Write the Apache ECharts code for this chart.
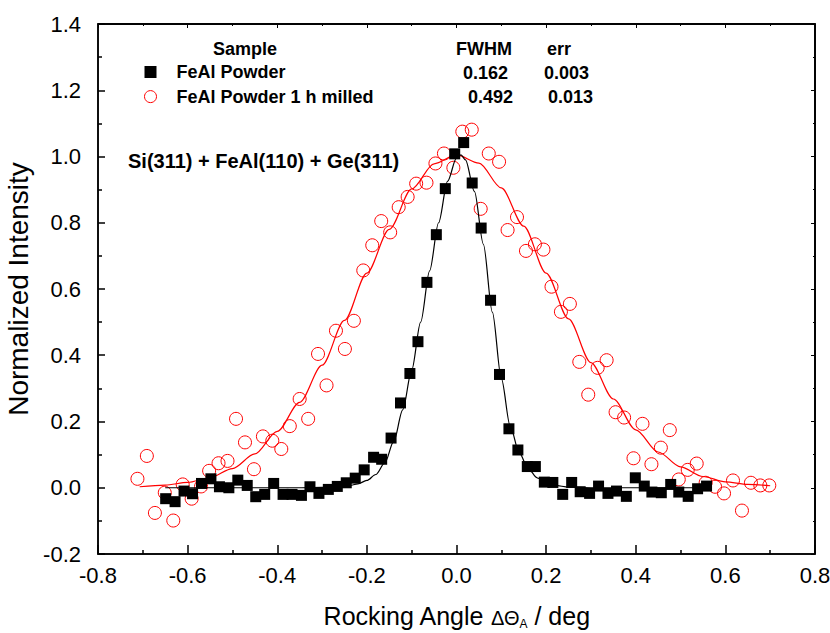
<!DOCTYPE html>
<html>
<head>
<meta charset="utf-8">
<script src="https://cdn.jsdelivr.net/npm/echarts@6/dist/echarts.min.js"></script>
<style>
  html, body { margin: 0; padding: 0; background: #fff; }
  #chart { width: 830px; height: 633px; }
</style>
</head>
<body>
<div id="chart"></div>
<script>
// FeAl Powder (black squares)
const powderX = [-0.649, -0.628, -0.608, -0.589, -0.569, -0.548, -0.529, -0.508, -0.488, -0.467,
  -0.448, -0.428, -0.408, -0.387, -0.367, -0.346, -0.327, -0.307, -0.286, -0.266,
  -0.246, -0.226, -0.206, -0.185, -0.167, -0.146, -0.125, -0.104, -0.086, -0.066,
  -0.045, -0.025, -0.004, 0.016, 0.035, 0.055, 0.076, 0.096, 0.117, 0.137,
  0.158, 0.176, 0.196, 0.215, 0.237, 0.257, 0.276, 0.297, 0.317, 0.338,
  0.357, 0.379, 0.399, 0.419, 0.436, 0.457, 0.478, 0.496, 0.517, 0.538, 0.558]
const powderY = [-0.033, -0.042, -0.010, -0.018, 0.013, 0.027, 0.003, 0.000, 0.023, 0.007,
  -0.027, -0.020, 0.013, -0.020, -0.020, -0.023, 0.003, -0.017, -0.005, 0.004,
  0.015, 0.029, 0.054, 0.092, 0.086, 0.150, 0.256, 0.345, 0.441, 0.620,
  0.764, 0.903, 1.008, 1.042, 0.920, 0.784, 0.566, 0.342, 0.178, 0.114,
  0.064, 0.064, 0.017, 0.016, -0.020, 0.016, -0.012, -0.017, 0.005, -0.017,
  -0.010, -0.026, 0.030, 0.005, -0.013, -0.015, 0.010, -0.013, -0.026, -0.003, 0.005]

// FeAl Powder 1 h milled (red open circles)
const milledX = [-0.712, -0.691, -0.673, -0.651, -0.632, -0.611, -0.591, -0.570, -0.552, -0.531,
  -0.511, -0.492, -0.472, -0.452, -0.432, -0.411, -0.391, -0.372, -0.350, -0.331,
  -0.309, -0.290, -0.269, -0.249, -0.229, -0.208, -0.188, -0.168, -0.148, -0.129,
  -0.109, -0.090, -0.067, -0.047, -0.028, -0.007, 0.013, 0.034, 0.054, 0.072,
  0.095, 0.114, 0.135, 0.155, 0.175, 0.194, 0.212, 0.233, 0.253, 0.274,
  0.294, 0.315, 0.335, 0.355, 0.374, 0.395, 0.415, 0.435, 0.456, 0.476,
  0.496, 0.516, 0.536, 0.556, 0.577, 0.597, 0.617, 0.637, 0.657, 0.678, 0.698]
const milledY = [0.027, 0.096, -0.076, -0.015, -0.099, 0.010, -0.033, 0.004, 0.051, 0.074,
  0.081, 0.208, 0.137, 0.056, 0.155, 0.142, 0.117, 0.186, 0.268, 0.208,
  0.404, 0.309, 0.474, 0.419, 0.504, 0.656, 0.732, 0.805, 0.771, 0.847,
  0.878, 0.918, 0.921, 0.979, 1.009, 0.966, 1.075, 1.081, 0.842, 1.009,
  0.984, 0.778, 0.817, 0.715, 0.735, 0.719, 0.607, 0.531, 0.555, 0.380,
  0.281, 0.362, 0.385, 0.228, 0.212, 0.089, 0.193, 0.071, 0.121, 0.174,
  0.025, 0.054, 0.073, 0.015, 0.003, -0.017, 0.022, -0.069, 0.015, 0.007, 0.007]

// fit curves
const powderFitX = [-0.65, -0.45, -0.35, -0.30, -0.26, -0.24, -0.22, -0.20, -0.18, -0.16,
  -0.14, -0.12, -0.10, -0.08, -0.06, -0.04, -0.02, 0.00, 0.01, 0.02,
  0.04, 0.06, 0.08, 0.10, 0.12, 0.14, 0.16, 0.18, 0.20, 0.22,
  0.25, 0.30, 0.35, 0.45, 0.56]
const powderFitY = [0, 0, 0, 0.001, 0.003, 0.006, 0.012, 0.022, 0.040, 0.075,
  0.140, 0.235, 0.355, 0.500, 0.655, 0.800, 0.925, 0.995, 1.005, 0.990,
  0.895, 0.735, 0.530, 0.330, 0.185, 0.105, 0.058, 0.030, 0.015, 0.007,
  0.002, 0, 0, 0, 0]

const milledFitX = [-0.707, -0.65, -0.60, -0.55, -0.50, -0.45, -0.40, -0.35, -0.30, -0.25,
  -0.20, -0.15, -0.10, -0.05, 0.00, 0.05, 0.10, 0.15, 0.20, 0.25,
  0.30, 0.35, 0.40, 0.45, 0.50, 0.55, 0.60, 0.65, 0.70]
const milledFitY = [0.003, 0.008, 0.016, 0.031, 0.058, 0.102, 0.170, 0.258, 0.370, 0.505,
  0.648, 0.780, 0.902, 0.978, 1.005, 0.980, 0.905, 0.790, 0.648, 0.510,
  0.378, 0.268, 0.175, 0.108, 0.063, 0.034, 0.018, 0.010, 0.006]

const sampleNames = ['FeAl Powder', 'FeAl Powder 1 h milled']
const fwhm = ['0.162', '0.492']
const fwhmErr = ['0.003', '0.013']

const xTicks = { min: -0.8, max: 0.8, interval: 0.2 }
const yTicks = { min: -0.2, max: 1.4, interval: 0.2 }

function pairs(xs, ys) {
  return xs.map((x, i) => [x, ys[i]])
}

const font = 'Liberation Sans, Arial, Helvetica, sans-serif'

let chart = echarts.init(document.getElementById('chart'), null, { renderer: 'svg' })

// 上边和右边的框线，短刻度朝内
function frameAxis(pos, range) {
  return {
    type: 'value',
    position: pos,
    min: range.min,
    max: range.max,
    interval: range.interval,
    axisLine: { show: true, onZero: false, lineStyle: { color: '#000', width: 1.5 } },
    axisTick: { show: true, inside: true, length: 4, lineStyle: { color: '#000' } },
    minorTick: { show: true, splitNumber: 2, length: 2, lineStyle: { color: '#000' } },
    axisLabel: { show: false },
    splitLine: { show: false }
  }
}

function label(text, x, y, size) {
  return {
    type: 'text',
    x: x,
    y: y,
    style: {
      text: text,
      font: 'bold ' + (size || 18) + 'px ' + font,
      fill: '#000',
      align: 'left',
      verticalAlign: 'middle'
    }
  }
}

chart.setOption({
  animation: false,
  grid: {
    left: 98,
    right: 15,
    top: 24,
    bottom: 79,
    outerBoundsMode: 'none',
    show: true,
    borderColor: '#000',
    borderWidth: 1.5
  },
  xAxis: [
    {
      type: 'value',
      min: xTicks.min,
      max: xTicks.max,
      interval: xTicks.interval,
      name: '{t|Rocking Angle }{s|\u0394\u0398}{sub|A}{t| / deg}',
      nameLocation: 'middle',
      nameGap: 48,
      nameTextStyle: {
        rich: {
          t: { fontSize: 25, color: '#000', fontFamily: font },
          s: { fontSize: 20, color: '#000', fontFamily: font, padding: [4, 0, 0, 0] },
          sub: { fontSize: 12, color: '#000', fontFamily: font, padding: [16, 0, 0, 0] }
        }
      },
      axisLine: { onZero: false, lineStyle: { color: '#000', width: 1.5 } },
      // 刻度朝内
      axisTick: { inside: true, length: 9, lineStyle: { color: '#000', width: 1.5 } },
      minorTick: { show: true, splitNumber: 2, length: 4, lineStyle: { color: '#000', width: 1.5 } },
      axisLabel: {
        color: '#000',
        fontSize: 22,
        fontFamily: font,
        margin: 10,
        formatter: v => v.toFixed(1)
      },
      splitLine: { show: false }
    },
    frameAxis('top', xTicks)
  ],
  yAxis: [
    {
      type: 'value',
      min: yTicks.min,
      max: yTicks.max,
      interval: yTicks.interval,
      name: 'Normalized Intensity',
      nameLocation: 'middle',
      nameGap: 60,
      nameTextStyle: { fontSize: 28, color: '#000', fontFamily: font },
      axisLine: { onZero: false, lineStyle: { color: '#000', width: 1.5 } },
      axisTick: { inside: true, length: 7, lineStyle: { color: '#000', width: 1.5 } },
      minorTick: { show: true, splitNumber: 2, length: 4, lineStyle: { color: '#000', width: 1.5 } },
      axisLabel: {
        color: '#000',
        fontSize: 22,
        fontFamily: font,
        margin: 17,
        formatter: v => v.toFixed(1)
      },
      splitLine: { show: false }
    },
    frameAxis('right', yTicks)
  ],
  legend: {
    orient: 'vertical',
    left: 144,
    top: 62,
    padding: 0,
    itemWidth: 12,
    itemHeight: 12,
    itemGap: 4.6,
    selectedMode: false,
    textStyle: {
      fontSize: 18,
      fontWeight: 'bold',
      color: '#000',
      fontFamily: font,
      lineHeight: 20,
      padding: [0, 0, 0, 15]
    },
    data: [
      { name: sampleNames[0], icon: 'rect', itemStyle: { color: '#000', opacity: 1 } },
      {
        name: sampleNames[1],
        icon: 'circle',
        itemStyle: { color: '#fff', borderColor: '#ff0000', borderWidth: 1, opacity: 1 }
      }
    ]
  },
  graphic: [
    { type: 'text', x: 245, y: 49, style: { text: 'Sample', font: 'bold 18px ' + font, fill: '#000', align: 'center', verticalAlign: 'middle' } },
    label('FWHM', 456, 49),
    label('err', 547, 49),
    label(fwhm[0], 463, 73),
    label(fwhmErr[0], 544, 73),
    label(fwhm[1], 468, 97),
    label(fwhmErr[1], 548, 97),
    label('Si(311) + FeAl(110) + Ge(311)', 128, 161, 20)
  ],
  series: [
    {
      name: sampleNames[1],
      type: 'scatter',
      symbol: 'circle',
      symbolSize: 13,
      clip: false,
      itemStyle: { color: 'rgba(255,255,255,0)', borderColor: '#ff0000', borderWidth: 1, opacity: 1 },
      data: pairs(milledX, milledY),
      z: 2
    },
    {
      name: 'fit milled',
      type: 'line',
      showSymbol: false,
      clip: false,
      smooth: 0.3,
      smoothMonotone: 'x',
      lineStyle: { color: '#ff0000', width: 1.2 },
      data: pairs(milledFitX, milledFitY),
      z: 3
    },
    {
      name: 'fit powder',
      type: 'line',
      showSymbol: false,
      clip: false,
      smooth: 0.3,
      smoothMonotone: 'x',
      lineStyle: { color: '#000', width: 1.2 },
      data: pairs(powderFitX, powderFitY),
      z: 4
    },
    {
      name: sampleNames[0],
      type: 'scatter',
      symbol: 'rect',
      symbolSize: 11,
      clip: false,
      itemStyle: { color: '#000', opacity: 1 },
      data: pairs(powderX, powderY),
      z: 5
    },
    {
      // 上、右框线：沿坐标轴范围画
      name: 'frame',
      type: 'line',
      showSymbol: false,
      silent: true,
      clip: false,
      lineStyle: { color: '#000', width: 1.5 },
      data: [[xTicks.min, yTicks.max], [xTicks.max, yTicks.max], [xTicks.max, yTicks.min]],
      z: 6
    }
  ]
})
</script>
</body>
</html>
